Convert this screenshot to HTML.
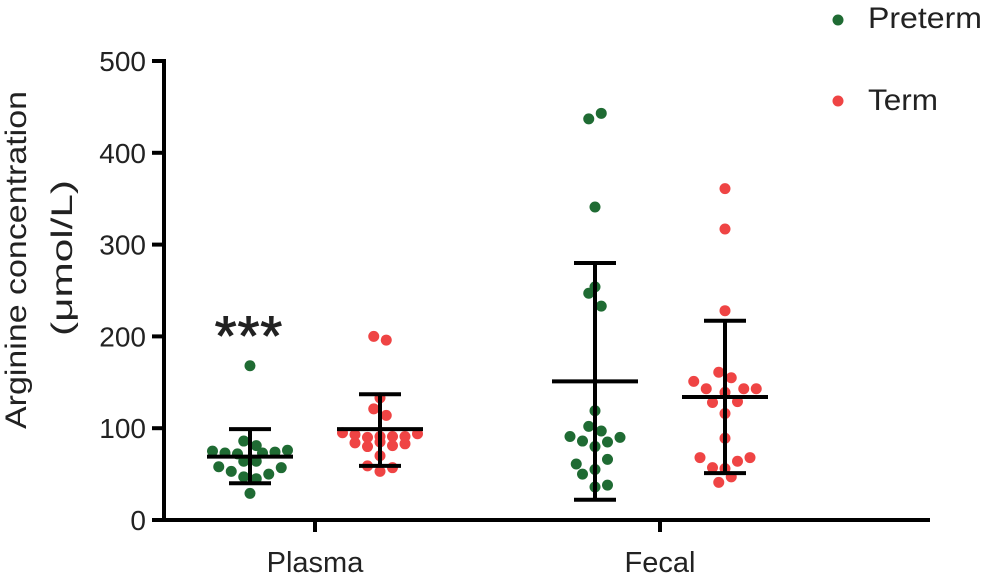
<!DOCTYPE html>
<html><head><meta charset="utf-8"><style>
html,body{margin:0;padding:0;background:#fff;}
svg{display:block;font-family:"Liberation Sans",sans-serif;}
</style></head><body>
<svg id="chart" width="985" height="578" viewBox="0 0 985 578">
<g id="axes"></g>
<g id="marks"></g>
<text transform="translate(26,260) rotate(-90)" text-anchor="middle" font-size="30" textLength="338" lengthAdjust="spacingAndGlyphs" fill="#222">Arginine concentration</text>
<text transform="translate(72,258) rotate(-90)" text-anchor="middle" font-size="30" textLength="156" lengthAdjust="spacingAndGlyphs" fill="#222">(μmol/L)</text>
<text x="249" y="355" text-anchor="middle" font-size="56" letter-spacing="1" fill="#222" stroke="#222" stroke-width="1">***</text>
<g>
<circle cx="838" cy="20" r="5.5" fill="#1f6b33"/>
<text x="868" y="28" font-size="30" textLength="114" lengthAdjust="spacingAndGlyphs" fill="#222">Preterm</text>
<circle cx="838" cy="101" r="5.5" fill="#ef4444"/>
<text x="868" y="110" font-size="30" textLength="70" lengthAdjust="spacingAndGlyphs" fill="#222">Term</text>
</g>
</svg>
<script>
const categories = ["Plasma", "Fecal"];
const groups = ["Preterm", "Term"];
const yTicks = [0, 100, 200, 300, 400, 500];
const plasmaPreterm = [168,86,81,75,73,72,73,74,76,64,64,58,57,53,50,47,45,29];
const plasmaPretermSlot = [0,-0.5,0.5,-3,-2,-1,1,2,3,-0.5,0.5,-2.5,2.5,-1.5,1.5,-0.5,0.5,0];
const plasmaTerm = [200,196,133,121,114,95,93,90,91,91,91,94,84,80,85,81,83,70,59,53,57];
const plasmaTermSlot = [-0.5,0.5,0,-0.5,0.5,-3,-2,-1,0,1,2,3,-2,-1,0,1,2,0,-1,0,1];
const fecalPreterm = [437,443,341,254,247,233,119,102,97,91,86,85,90,80,66,61,55,50,36,38];
const fecalPretermSlot = [-0.5,0.5,0,0,-0.5,0.5,0,-0.5,0.5,-2,-1,1,2,0,1,-1.5,0,-1,0,1];
const fecalTerm = [361,317,228,161,155,151,143,143,143,139,128,129,116,89,68,64,68,57,56,47,41];
const fecalTermSlot = [0,0,0,-0.5,0.5,-2.5,-1.5,1.5,2.5,0,-1,1,0,0,-2,1,2,-1,0,0.5,-0.5];
const means = [69, 99, 151, 134];
const sdUpper = [99, 137, 280, 217];
const sdLower = [40, 59, 22, 51];

const NS = "http://www.w3.org/2000/svg";
const y0 = 520, yPer = 0.918;
function yScale(v){ return y0 - v * yPer; }
const catCenters = [315, 660];
function xScale(ci, gi){ return catCenters[ci] + (gi === 0 ? -65 : 65); }
function mk(tag, attrs, parent){ const e = document.createElementNS(NS, tag); for (const k in attrs) e.setAttribute(k, attrs[k]); parent.appendChild(e); return e; }
const axes = document.getElementById("axes");
const marks = document.getElementById("marks");

let l = mk("line", {x1:164, y1:yScale(500)-2, x2:164, y2:y0+2, stroke:"#000", "stroke-width":4}, axes);


l = mk("line", {x1:162, y1:y0, x2:930, y2:y0, stroke:"#000", "stroke-width":4}, axes);


yTicks.forEach(t => {
  const tk = mk("line", {x1:152, y1:yScale(t), x2:164, y2:yScale(t), stroke:"#000", "stroke-width":4}, axes);
  
  
  const tx = mk("text", {x:146, y:yScale(t)+10, "text-anchor":"end", "font-size":28, fill:"#222"}, axes);
  tx.textContent = t;
  
  
});
categories.forEach((c, i) => {
  const tk = mk("line", {x1:catCenters[i], y1:y0, x2:catCenters[i], y2:y0+12, stroke:"#000", "stroke-width":4}, axes);
  
  
  const tx = mk("text", {x:catCenters[i], y:572, "text-anchor":"middle", "font-size":29, fill:"#222"}, axes);
  tx.textContent = c;
  
  
});

const series = [
  [plasmaPreterm, plasmaPretermSlot, 0, 0],
  [plasmaTerm, plasmaTermSlot, 0, 1],
  [fecalPreterm, fecalPretermSlot, 1, 0],
  [fecalTerm, fecalTermSlot, 1, 1]
];
const colors = ["#1f6b33", "#ef4444"];
series.forEach((s, si) => {
  const [vals, slots, ci, gi] = s;
  const cx = xScale(ci, gi);
  vals.forEach((v, i) => {
    const d = mk("circle", {cx: cx + slots[i] * 12.5, cy: yScale(v), r: 5.5, fill: colors[gi]}, marks);
    
    
  });
  const st = {stroke:"#000", "stroke-width":4};
  let e = mk("line", Object.assign({x1:cx, y1:yScale(sdUpper[si]), x2:cx, y2:yScale(sdLower[si])}, st), marks);
  
  
  e = mk("line", Object.assign({x1:cx-21, y1:yScale(sdUpper[si]), x2:cx+21, y2:yScale(sdUpper[si])}, st), marks);
  
  
  e = mk("line", Object.assign({x1:cx-21, y1:yScale(sdLower[si]), x2:cx+21, y2:yScale(sdLower[si])}, st), marks);
  
  
  e = mk("line", Object.assign({x1:cx-43, y1:yScale(means[si]), x2:cx+43, y2:yScale(means[si])}, st), marks);
  
  
});
</script>
</body></html>
